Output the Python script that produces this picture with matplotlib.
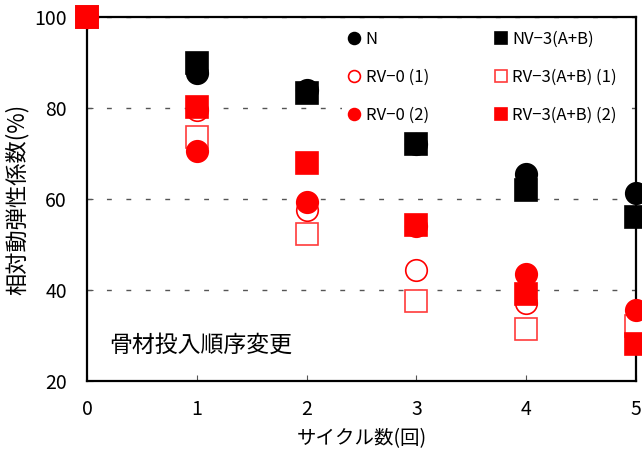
import matplotlib
matplotlib.use('Agg')
import matplotlib.pyplot as plt

plt.rcParams['font.family'] = ['Noto Sans CJK JP', 'DejaVu Sans']

# サイクル数と各配合の相対動弾性係数(%)
cycles = [0, 1, 2, 3, 4, 5]
n_vals = [100, 87.6, 84.0, 72.0, 65.5, 61.3]
nv3_vals = [100, 90.0, 83.3, 72.1, 62.0, 56.0]
rv0_1_vals = [100, 79.6, 57.6, 44.5, 37.1, 33.4]
rv3_1_vals = [100, 73.6, 52.4, 37.5, 31.4, 32.0]
rv0_2_vals = [100, 70.6, 59.3, 54.0, 43.5, 35.6]
rv3_2_vals = [100, 80.3, 68.0, 54.2, 39.1, 28.2]

labels = ['N', 'NV\u22123(A+B)', 'RV\u22120 (1)', 'RV\u22123(A+B) (1)',
          'RV\u22120 (2)', 'RV\u22123(A+B) (2)']

fig = plt.figure(figsize=(6.42, 4.55), dpi=100)
ax = fig.add_axes([0.1355, 0.1626, 0.8552, 0.8000])

ms = 15.5
series = [
    (n_vals, 'o', 'black', 'black'),
    (nv3_vals, 's', 'black', 'black'),
    (rv0_1_vals, 'o', 'white', 'red'),
    (rv3_1_vals, 's', 'white', '#ff3b3b'),
    (rv0_2_vals, 'o', 'red', 'red'),
    (rv3_2_vals, 's', 'red', 'red'),
]
handles = []
for (vals, mk, fc, ec), lab in zip(series, labels):
    h, = ax.plot(cycles, vals, linestyle='none', marker=mk, markersize=ms,
                 markerfacecolor=fc, markeredgecolor=ec, markeredgewidth=1.2,
                 clip_on=False, zorder=3, label=lab)
    handles.append(h)

ax.set_xlim(0, 5)
ax.set_ylim(20, 100)
ax.set_xticks(cycles)
ax.set_yticks([20, 40, 60, 80, 100])
ax.tick_params(axis='both', direction='in', length=4, width=0.8,
               labelsize=14, colors='#555555', labelcolor='black')
ax.tick_params(axis='x', pad=13)
ax.tick_params(axis='y', pad=14.5)

ax.grid(axis='y', color='#555555', linewidth=1.0, linestyle=(0, (3.5, 10.5)))
ax.set_axisbelow(True)
for sp in ax.spines.values():
    sp.set_linewidth(1.6)
    sp.set_color('black')

ax.set_xlabel('サイクル数(回)', fontsize=14, labelpad=6)
ax.set_ylabel('相対動弾性係数(%)', fontsize=16, labelpad=4)

ax.text(0.2, 27.9, '骨材投入順序変更', fontsize=16.5, va='center', ha='left')

# 凡例は2列: 左に円、右に四角 (白地で目盛線を隠す)
order = [0, 2, 4, 1, 3, 5]
leg = ax.legend([handles[i] for i in order], [labels[i] for i in order],
                ncol=2, frameon=True, facecolor='white', edgecolor='none',
                framealpha=1, fancybox=False,
                fontsize=12, markerscale=0.55,
                handlelength=0.6, handletextpad=0.4, columnspacing=4.0,
                labelspacing=1.26, borderaxespad=0, loc='upper left',
                bbox_to_anchor=(0.465, 0.98))
leg.set_zorder(2)

fig.savefig('out.png', dpi=100)
